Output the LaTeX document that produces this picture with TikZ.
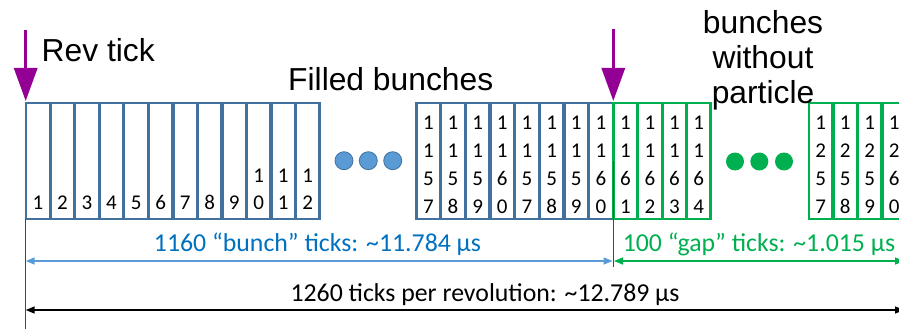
\documentclass[tikz,border=0pt]{standalone}
\usepackage{fontspec}
\setmainfont{Liberation Sans}
\newfontfamily\carlito{Carlito}
\usetikzlibrary{arrows.meta}
\definecolor{cellblue}{RGB}{65,113,156}
\definecolor{cellgreen}{RGB}{0,176,80}
\definecolor{tickpurple}{RGB}{148,0,148}
\definecolor{dimblue}{RGB}{91,155,213}
\definecolor{textblue}{RGB}{0,112,192}
\definecolor{guidegray}{RGB}{70,70,70}
\begin{document}
\begin{tikzpicture}[x=1pt,y=-1pt,
  cellbox/.style={draw, line width=2.5pt, minimum width=23.7pt, minimum height=116pt, inner sep=0pt},
  bluecell/.style={cellbox, draw=cellblue},
  greencell/.style={cellbox, draw=cellgreen},
  digitsL/.style={font=\carlito\fontsize{21}{26.7}\selectfont, align=center, inner sep=0pt, text depth=0pt, anchor=south},
  digitsR/.style={font=\carlito\fontsize{21}{28}\selectfont, align=center, inner sep=0pt, text depth=0pt, anchor=south},
  bluedot/.style={circle, minimum size=18pt, inner sep=0pt, fill=dimblue, draw=cellblue, line width=0.8pt},
  greendot/.style={circle, minimum size=18pt, inner sep=0pt, fill=cellgreen},
  revarrow/.style={draw=tickpurple, line width=3.3pt, -{Triangle[width=23pt,length=33pt]}},
  headline/.style={font=\fontsize{31.8}{35}\selectfont, inner sep=0pt},
  dimlabel/.style={font=\carlito\fontsize{25.8}{28}\selectfont, inner sep=0pt, anchor=base},
  dimline/.style={line width=1.5pt, {Triangle[width=7pt,length=9pt]}-{Triangle[width=7pt,length=9pt]}},
  guide/.style={draw=guidegray, line width=1.1pt}
]
\useasboundingbox (0,0) rectangle (899,329);
\clip (0,0) rectangle (899,329);

% first twelve filled bunches
\foreach \i/\t in {1/1,2/2,3/3,4/4,5/5,6/6,7/7,8/8,9/9,10/{1\\0},11/{1\\1},12/{1\\2}} {
  \node[bluecell] (L\i) at ({25.7+24.53*(\i-0.5)},161) {};
  \node[digitsL] (L\i-n) at ([yshift=10.6pt]L\i.south) {\t};
}

% last filled bunches before the gap
\foreach \i/\t in {1/{1\\1\\5\\7},2/{1\\1\\5\\8},3/{1\\1\\5\\9},4/{1\\1\\6\\0},
                   5/{1\\1\\5\\7},6/{1\\1\\5\\8},7/{1\\1\\5\\9},8/{1\\1\\6\\0}} {
  \node[bluecell] (M\i) at ({416+24.66*(\i-0.5)},161) {};
  \node[digitsR] (M\i-n) at ([yshift=6.3pt]M\i.south) {\t};
}

% first empty bunches of the gap
\foreach \i/\t in {1/{1\\1\\6\\1},2/{1\\1\\6\\2},3/{1\\1\\6\\3},4/{1\\1\\6\\4}} {
  \node[greencell] (G\i) at ({613.3+24.43*(\i-0.5)},161) {};
  \node[digitsR] (G\i-n) at ([yshift=6.3pt]G\i.south) {\t};
}

% last empty bunches of the gap
\foreach \i/\t in {1/{1\\2\\5\\7},2/{1\\2\\5\\8},3/{1\\2\\5\\9},4/{1\\2\\6\\0}} {
  \node[greencell] (H\i) at ({808.5+24.5*(\i-0.5)},161) {};
  \node[digitsR] (H\i-n) at ([yshift=6.3pt]H\i.south) {\t};
}

% ellipsis dots
\node[bluedot] (bd1) at (344,160.7) {};
\node[bluedot] (bd2) at (368.3,160.7) {};
\node[bluedot] (bd3) at (392.7,160.7) {};
\node[greendot] (gd1) at (735,161.5) {};
\node[greendot] (gd2) at (759.3,161.5) {};
\node[greendot] (gd3) at (784,161.5) {};

% revolution tick markers
\coordinate (rev1top) at (25.7,30);
\coordinate (rev1tip) at (25.7,101);
\coordinate (rev2top) at (613.3,29);
\coordinate (rev2tip) at (613.3,101);
\draw[revarrow] (rev1top) -- (rev1tip);
\draw[revarrow] (rev2top) -- (rev2tip);

% headings
\node[headline, anchor=base west] (revlabel) at (41.5,62) {Rev tick};
\node[headline, anchor=base west] (filledlabel) at (288,90) {Filled bunches};
\node[headline, align=center, anchor=south, text depth=0pt] (emptylabel) at (763,103.3) {bunches\\without\\particle};

% reference lines
\coordinate (leftTop) at (25.7,219);
\coordinate (leftBot) at (25.7,329);
\coordinate (gapTop) at (613.3,161);
\coordinate (gapBot) at (613.3,267);
\draw[guide] (leftTop) -- (leftBot);
\draw[guide] (gapTop) -- (gapBot);

% dimension arrows
\coordinate (bunchL) at (25.7,261);
\coordinate (bunchR) at (612.6,261);
\coordinate (gapL) at (614,261);
\coordinate (gapR) at (904,261);
\coordinate (revL) at (25.7,310);
\coordinate (revR) at (904,310);
\draw[dimline, draw=dimblue, fill=dimblue] (bunchL) -- (bunchR);
\draw[dimline, draw=cellgreen, fill=cellgreen] (gapL) -- (gapR);
\draw[dimline, draw=black, fill=black] (revL) -- (revR);

\node[dimlabel, text=textblue] (bunchtxt) at (317.5,251.7) {1160 “bunch” ticks: \textasciitilde11.784 µs};
\node[dimlabel, text=cellgreen] (gaptxt) at (759,251.7) {100 “gap” ticks: \textasciitilde1.015 µs};
\node[dimlabel, text=black] (revtxt) at (485,301) {1260 ticks per revolution: \textasciitilde12.789 µs};
\end{tikzpicture}
\end{document}
